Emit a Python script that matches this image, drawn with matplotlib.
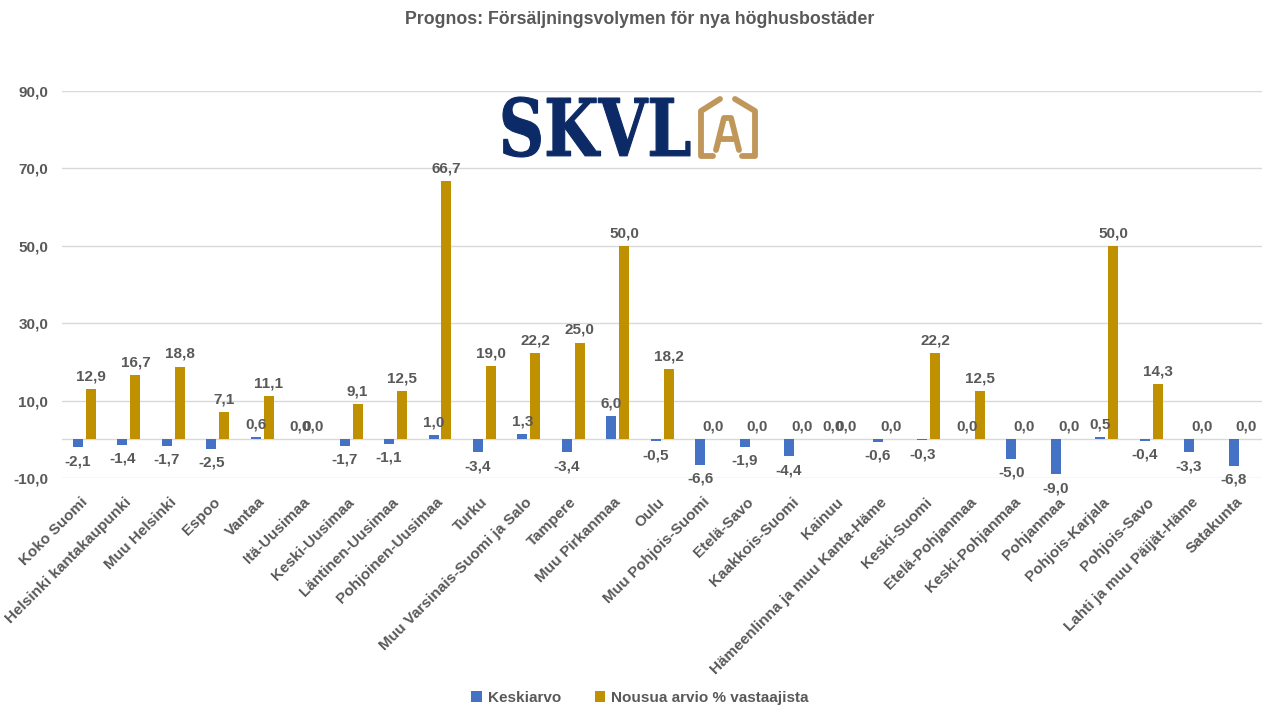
import matplotlib
matplotlib.use("Agg")
import matplotlib.pyplot as plt
import numpy as np
from matplotlib.textpath import TextPath
from matplotlib.font_manager import FontProperties
from matplotlib.patches import PathPatch
from matplotlib.transforms import Affine2D, ScaledTranslation

categories = ["Koko Suomi", "Helsinki kantakaupunki", "Muu Helsinki", "Espoo", "Vantaa",
              "Itä-Uusimaa", "Keski-Uusimaa", "Läntinen-Uusimaa", "Pohjoinen-Uusimaa", "Turku",
              "Muu Varsinais-Suomi ja Salo", "Tampere", "Muu Pirkanmaa", "Oulu",
              "Muu Pohjois-Suomi", "Etelä-Savo", "Kaakkois-Suomi", "Kainuu",
              "Hämeenlinna ja muu Kanta-Häme", "Keski-Suomi", "Etelä-Pohjanmaa",
              "Keski-Pohjanmaa", "Pohjanmaa", "Pohjois-Karjala", "Pohjois-Savo",
              "Lahti ja muu Päijät-Häme", "Satakunta"]
keskiarvo = [-2.1, -1.4, -1.7, -2.5, 0.6, 0.0, -1.7, -1.1, 1.0, -3.4, 1.3, -3.4, 6.0, -0.5,
             -6.6, -1.9, -4.4, 0.0, -0.6, -0.3, 0.0, -5.0, -9.0, 0.5, -0.4, -3.3, -6.8]
nousua = [12.9, 16.7, 18.8, 7.1, 11.1, 0.0, 9.1, 12.5, 66.7, 19.0, 22.2, 25.0, 50.0, 18.2,
          0.0, 0.0, 0.0, 0.0, 0.0, 22.2, 12.5, 0.0, 0.0, 50.0, 14.3, 0.0, 0.0]
series_names = ["Keskiarvo", "Nousua arvio % vastaajista"]
yticks = [-10, 10, 30, 50, 70, 90]
title = "Prognos: Försäljningsvolymen för nya höghusbostäder"

BLUE = "#4472C4"
GOLD = "#BF9000"
TXT = "#595959"
FONT = "Liberation Sans"

plt.rcParams['font.family'] = [FONT, 'DejaVu Sans']

fig = plt.figure(figsize=(12.8, 7.2), dpi=100)
ax = fig.add_axes([62/1280, 1-478/720, 1200/1280, 387/720])

x = np.arange(len(categories))
w = 0.225
b1 = ax.bar(x - 0.14, keskiarvo, width=w, color=BLUE, label=series_names[0], zorder=3)
b2 = ax.bar(x + 0.15, nousua, width=w, color=GOLD, label=series_names[1], zorder=3)

def fmt(v):
    return f"{v:.1f}".replace(".", ",")

for bars, vals in ((b1, keskiarvo), (b2, nousua)):
    for rect, v in zip(bars, vals):
        cx = rect.get_x() + rect.get_width()/2
        if v >= 0:
            ax.annotate(fmt(v), (cx, v), xytext=(0, 4), textcoords="offset points",
                        ha="center", va="bottom", fontsize=11, fontweight="bold", color=TXT, zorder=4)
        else:
            ax.annotate(fmt(v), (cx, v), xytext=(0, -5), textcoords="offset points",
                        ha="center", va="top", fontsize=11, fontweight="bold", color=TXT, zorder=4)

ax.set_xlim(-0.5, len(categories) - 0.5)
ax.set_ylim(-10, 90)
ax.set_yticks(yticks)
ax.set_yticklabels([fmt(v) for v in yticks], fontsize=11, fontweight="bold", color=TXT)
ax.grid(axis="y", color="#D9D9D9", linewidth=1, zorder=0)
ax.axhline(0, color="#D9D9D9", linewidth=1, zorder=2)
for s in ax.spines.values():
    s.set_visible(False)
ax.tick_params(axis="both", length=0)
ax.tick_params(axis="y", pad=10)
ax.set_xticks(x)
ax.set_xticklabels(categories, rotation=45, ha="right", rotation_mode="anchor",
                   fontsize=11, fontweight="bold", color=TXT)
ax.tick_params(axis="x", pad=10)
shift = ScaledTranslation(-4/100, -3/100, fig.dpi_scale_trans)
for lbl in ax.get_xticklabels():
    lbl.set_transform(lbl.get_transform() + shift)

fig.text(0.5, 1-20/720, title, ha="center", va="center", fontsize=12.8, fontweight="bold", color=TXT)

leg = fig.legend(loc="center", bbox_to_anchor=(0.5, 1-698/720), ncol=2, frameon=False,
                 handlelength=0.7, handleheight=0.7, columnspacing=2.2, handletextpad=0.4,
                 prop={'family': FONT, 'weight': 'bold', 'size': 11})
for t in leg.get_texts():
    t.set_color(TXT)

# Logo overlay
lax = fig.add_axes([0, 0, 1, 1], zorder=10)
lax.set_xlim(0, 1280)
lax.set_ylim(720, 0)
lax.axis("off")
lax.patch.set_alpha(0)

tp = TextPath((0, 0), "SKVL", prop=FontProperties(family="DejaVu Serif", weight="bold"), size=100)
ext = tp.get_extents()
x0, x1, y0, y1 = 503, 690, 97, 157
sx = (x1 - x0) / ext.width
sy = (y1 - y0) / ext.height
tr = Affine2D().translate(-ext.x0, -ext.y0).scale(sx, -sy).translate(x0, y1)
path = tr.transform_path(tp)
lax.add_patch(PathPatch(path, facecolor="#0B2A66", edgecolor="#0B2A66", linewidth=0.8))

LG = "#C0975A"
lw = 4.2
lax.plot([713, 701, 701, 720], [156, 156, 111, 99], color=LG, lw=lw, solid_capstyle="round", solid_joinstyle="round")
lax.plot([735, 755, 755, 742], [99, 111, 156, 156], color=LG, lw=lw, solid_capstyle="round", solid_joinstyle="round")
lax.plot([716, 724, 731, 739], [150, 118, 118, 150], color=LG, lw=lw, solid_capstyle="round", solid_joinstyle="round")
lax.plot([720, 735], [139, 139], color=LG, lw=lw, solid_capstyle="round")

fig.savefig("out.png", dpi=100, facecolor="white")
